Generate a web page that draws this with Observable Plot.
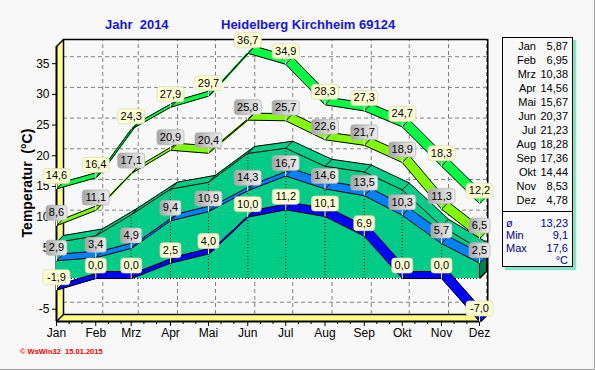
<!DOCTYPE html>
<html><head><meta charset="utf-8">
<script src="https://cdn.jsdelivr.net/npm/d3@7"></script>
<script src="https://cdn.jsdelivr.net/npm/@observablehq/plot@0.6"></script>
<style>
body{margin:0;background:#F8F8F8;}
#wrap{position:relative;width:595px;height:370px;overflow:hidden;font-family:"Liberation Sans",Arial,sans-serif;background:#F8F8F8;}
#wrap svg{position:absolute;left:0;top:0;}
.title{position:absolute;font-weight:bold;font-size:13px;color:#1414E6;line-height:16px;white-space:pre;}
#ytitle{position:absolute;left:27px;top:183px;transform:translate(-50%,-50%) rotate(-90deg);font-weight:bold;font-size:14px;white-space:pre;color:#000;}
#caption{position:absolute;left:20px;top:347px;font-size:7.5px;font-weight:bold;color:#FF0000;white-space:pre;line-height:10px;}
#legend{position:absolute;left:502px;top:37px;width:69px;height:228px;border:1px solid #000;background:#F8F8F8;box-shadow:3px 3px 1px #7FE6C6;font-size:11px;}
#legend .row{position:absolute;left:0;height:14px;line-height:14px;width:69px;}
#legend .m{position:absolute;right:36px;text-align:right;}
#legend .v{position:absolute;right:4px;text-align:right;}
#legend .div{position:absolute;left:0;width:69px;top:173px;border-top:1px solid #000;}
#legend .s{color:#000090;}
.border{position:absolute;background:#A0A0A0;}
</style></head>
<body><div id="wrap"></div>
<script>
// ---- data ----
const months  = ["Jan","Feb","Mrz","Apr","Mai","Jun","Jul","Aug","Sep","Okt","Nov","Dez"];
const absMax  = [14.6,16.4,24.3,27.9,29.7,36.7,34.9,28.3,27.3,24.7,18.3,12.2];
const meanMax = [8.6,11.1,17.1,20.9,20.4,25.8,25.7,22.6,21.7,18.9,11.3,6.5];
const meanT   = [5.87,6.95,10.38,14.56,15.67,20.37,21.23,18.28,17.36,14.44,8.53,4.78];
const meanMin = [2.9,3.4,4.9,9.4,10.9,14.3,16.7,14.6,13.5,10.3,5.7,2.5];
const absMin  = [-1.9,0.0,0.0,2.5,4.0,10.0,11.2,10.1,6.9,0.0,0.0,-7.0];
const yearMean = 13.23, yearMin = 9.1, yearMax = 17.6;
const yTicks  = [-5,0,5,10,15,20,25,30,35];
const yDomain = [-7, 37.8];
const titleYear = "Jahr  2014";
const titlePlace = "Heidelberg Kirchheim 69124";
const yLabel = "Temperatur  (°C)";
const captionText = "© WsWin32  15.01.2015";

const monthDates = months.map((m,i) => new Date(Date.UTC(2014, i, 1)));
const xStart = monthDates[0];
const xEnd = new Date(Date.UTC(2014, 11, 2));
const minorDates = [];
monthDates.forEach((d,i) => { if (i < 11) { minorDates.push(new Date(Date.UTC(2014,i,11)), new Date(Date.UTC(2014,i,21))); } });

const rows = months.map((m,i) => ({date: monthDates[i], month: m, absMax: absMax[i], meanMax: meanMax[i], mean: meanT[i], meanMin: meanMin[i], absMin: absMin[i]}));
const fmt = v => v.toFixed(1).replace(".", ",");

// ---- 3D helpers ----
const D = 7;
const steps = d3.range(0.5, D, 0.5);
const diag = {draw(ctx){ ctx.moveTo(0,0); ctx.lineTo(D,-D); }};
const tail = {draw(ctx){ ctx.moveTo(0,-5.5); ctx.lineTo(0,0); }};
function box(w){ return {draw(ctx){
  const x0=-w/2, x1=w/2, y0=-20.5, y1=-5.5, r=3;
  ctx.moveTo(x0+r,y0); ctx.lineTo(x1-r,y0); ctx.arcTo(x1,y0,x1,y0+r,r);
  ctx.lineTo(x1,y1-r); ctx.arcTo(x1,y1,x1-r,y1,r); ctx.lineTo(x0+r,y1);
  ctx.arcTo(x0,y1,x0,y1-r,r); ctx.lineTo(x0,y0+r); ctx.arcTo(x0,y0,x0+r,y0,r); ctx.closePath();
}}; }

function ribbon(key, color){
  const ms = steps.map(k => Plot.line(rows, {x:"date", y:key, stroke:color, strokeWidth:1.3, dx:k, dy:-k}));
  ms.push(Plot.line(rows, {x:"date", y:key, stroke:"black", strokeWidth:1}));
  ms.push(Plot.line(rows, {x:"date", y:key, stroke:"black", strokeWidth:1, dx:D, dy:-D}));
  ms.push(Plot.dot(rows, {x:"date", y:key, symbol:diag, fill:"none", stroke:"black", strokeWidth:1}));
  return ms;
}
function labels(key, fill, edge){
  return [
    Plot.dot(rows, {x:"date", y:key, symbol:tail, fill:"none", stroke:"white", strokeWidth:1}),
    Plot.dot(rows, {x:"date", y:key, symbol:box(27), fill, stroke:edge, strokeWidth:0.7, filter: d => fmt(d[key]).length >= 4}),
    Plot.dot(rows, {x:"date", y:key, symbol:box(21), fill, stroke:edge, strokeWidth:0.7, filter: d => fmt(d[key]).length < 4}),
    Plot.text(rows, {x:"date", y:key, text: d => fmt(d[key]), dy:-13, fontSize:11, fill:"black"})
  ];
}

const backGrid = [
  Plot.ruleY(yTicks, {y: d => d, x1: () => xStart, x2: () => xEnd, dx:D, dy:-D, stroke:"#808080", strokeDasharray:"4,3", strokeWidth:1}),
  Plot.ruleX(monthDates.slice(1), {x: d => d, y1: () => yDomain[0], y2: () => yDomain[1], dx:D, dy:-D, stroke:"#808080", strokeDasharray:"4,3", strokeWidth:1}),
  Plot.ruleY([yDomain[1]], {y: d => d, x1: () => xStart, x2: () => xEnd, dx:D, dy:-D, stroke:"black", strokeWidth:1.5}),
  Plot.ruleX([xEnd], {x: d => d, y1: () => yDomain[0], y2: () => yDomain[1], dx:D, dy:-D, stroke:"black", strokeWidth:1.5})
];
const wallFloor = [
  ...steps.map(k => Plot.ruleX([xStart], {x: d => d, y1: () => yDomain[0], y2: () => yDomain[1], dx:k, dy:-k, stroke:"#FFFF80", strokeWidth:1.3})),
  ...steps.map(k => Plot.ruleY([yDomain[0]], {y: d => d, x1: () => xStart, x2: () => xEnd, dx:k, dy:-k, stroke:"#FFFF80", strokeWidth:1.3})),
  Plot.ruleX([xStart], {x: d => d, y1: () => yDomain[0], y2: () => yDomain[1], dx:D, dy:-D, stroke:"black", strokeWidth:1.5}),
  Plot.ruleY([yDomain[0]], {y: d => d, x1: () => xStart, x2: () => xEnd, dx:D, dy:-D, stroke:"black", strokeWidth:1.5}),
  Plot.ruleX([xStart], {x: d => d, y1: () => yDomain[0], y2: () => yDomain[1], stroke:"black", strokeWidth:2}),
  Plot.ruleY([yDomain[0]], {y: d => d, x1: () => xStart, x2: () => xEnd, stroke:"black", strokeWidth:2}),
  Plot.dot([{x:xStart,y:yDomain[1]},{x:xStart,y:yDomain[0]},{x:xEnd,y:yDomain[0]}], {x:"x", y:"y", symbol:diag, fill:"none", stroke:"black", strokeWidth:1.5})
];
const last = [rows[rows.length-1]];
const slab = [
  Plot.areaY(rows, {x:"date", y1: () => 0, y2:"mean", fill:"#00CC88"}),
  ...steps.map(k => Plot.ruleX(last, {x:"date", y1: () => 0, y2:"mean", dx:k, dy:-k, stroke:"#00804A", strokeWidth:1.3})),
  Plot.ruleX(last, {x:"date", y1: () => 0, y2:"mean", dx:D, dy:-D, stroke:"black", strokeWidth:1}),
  Plot.dot(last.map(d => ({date:d.date, v:0})), {x:"date", y:"v", symbol:diag, fill:"none", stroke:"black"}),
  ...ribbon("mean", "#00CC88"),
  Plot.ruleX(rows.slice(1,11), {x:"date", y1: () => 0, y2:"mean", stroke:"black", strokeDasharray:"1,2", strokeWidth:1}),
  Plot.ruleX(last, {x:"date", y1: () => 0, y2:"mean", stroke:"black", strokeWidth:1}),
  Plot.ruleY([0], {y: d => d, x1: () => xStart, x2: () => monthDates[11], stroke:"black", strokeDasharray:"1,2", strokeWidth:1})
];

const chart = Plot.plot({
  width: 595, height: 370,
  marginLeft: 56, marginRight: 115, marginTop: 46, marginBottom: 49,
  style: {background: "transparent", fontFamily: "'Liberation Sans', Arial, sans-serif", fontSize: "12px", color: "black"},
  x: {type: "utc", domain: [monthDates[0], monthDates[11]], range: [56, 479], axis: null},
  y: {domain: yDomain, range: [321, 46], axis: null},
  marks: [
    ...backGrid,
    ...wallFloor,
    Plot.axisY({ticks: yTicks, tickSize: 4, tickPadding: 3, fontSize: 12, tickFormat: d => String(d), label: null}),
    Plot.axisX({ticks: monthDates, tickSize: 5, tickPadding: 2, fontSize: 12, tickFormat: d => months[d.getUTCMonth()], label: null}),
    Plot.axisX({ticks: minorDates, tickSize: 3, tickFormat: () => "", label: null}),
    ...ribbon("absMax", "#00FF40"),
    ...ribbon("meanMax", "#80FF00"),
    ...slab,
    ...ribbon("meanMin", "#0080FF"),
    ...ribbon("absMin", "#0000FF"),
    ...labels("absMax", "#FFFFD4", "#D8D8B0"),
    ...labels("meanMax", "url(#lblGray)", "#B0B0B0"),
    ...labels("meanMin", "url(#lblGray)", "#B0B0B0"),
    ...labels("absMin", "#FFFFD4", "#D8D8B0")
  ]
});

const defs = d3.select(chart).insert("defs", ":first-child");
const grad = defs.append("linearGradient").attr("id","lblGray").attr("x1","0").attr("x2","1").attr("y1","0").attr("y2","0");
grad.append("stop").attr("offset","0").attr("stop-color","#A4A4A4");
grad.append("stop").attr("offset","0.5").attr("stop-color","#D0D0D0");
grad.append("stop").attr("offset","1").attr("stop-color","#ECECEC");

const wrap = document.getElementById("wrap");
wrap.appendChild(chart);

function add(html){ wrap.insertAdjacentHTML("beforeend", html); }
add(`<div class="title" style="left:105px;top:17px">${titleYear}</div>`);
add(`<div class="title" style="left:221px;top:17px">${titlePlace}</div>`);
add(`<div id="ytitle">${yLabel}</div>`);
add(`<div id="caption">${captionText}</div>`);
let leg = `<div id="legend">`;
months.forEach((m,i) => {
  leg += `<div class="row" style="top:${1 + i*14}px"><span class="m">${m}</span><span class="v">${meanT[i].toFixed(2).replace(".",",")}</span></div>`;
});
leg += `<div class="div"></div>`;
const summ = [["ø", yearMean.toFixed(2)], ["Min", yearMin.toFixed(1)], ["Max", yearMax.toFixed(1)], ["", "°C"]];
summ.forEach((s,i) => {
  leg += `<div class="row s" style="top:${179 + i*12.3}px;height:12.3px;line-height:12.3px"><span style="position:absolute;left:3px">${s[0]}</span><span class="v">${s[1].replace(".",",")}</span></div>`;
});
leg += `</div>`;
add(leg);
add(`<div class="border" style="left:594px;top:0;width:1px;height:370px"></div>`);
add(`<div class="border" style="left:0;top:369px;width:595px;height:1px"></div>`);
</script>
</body></html>
